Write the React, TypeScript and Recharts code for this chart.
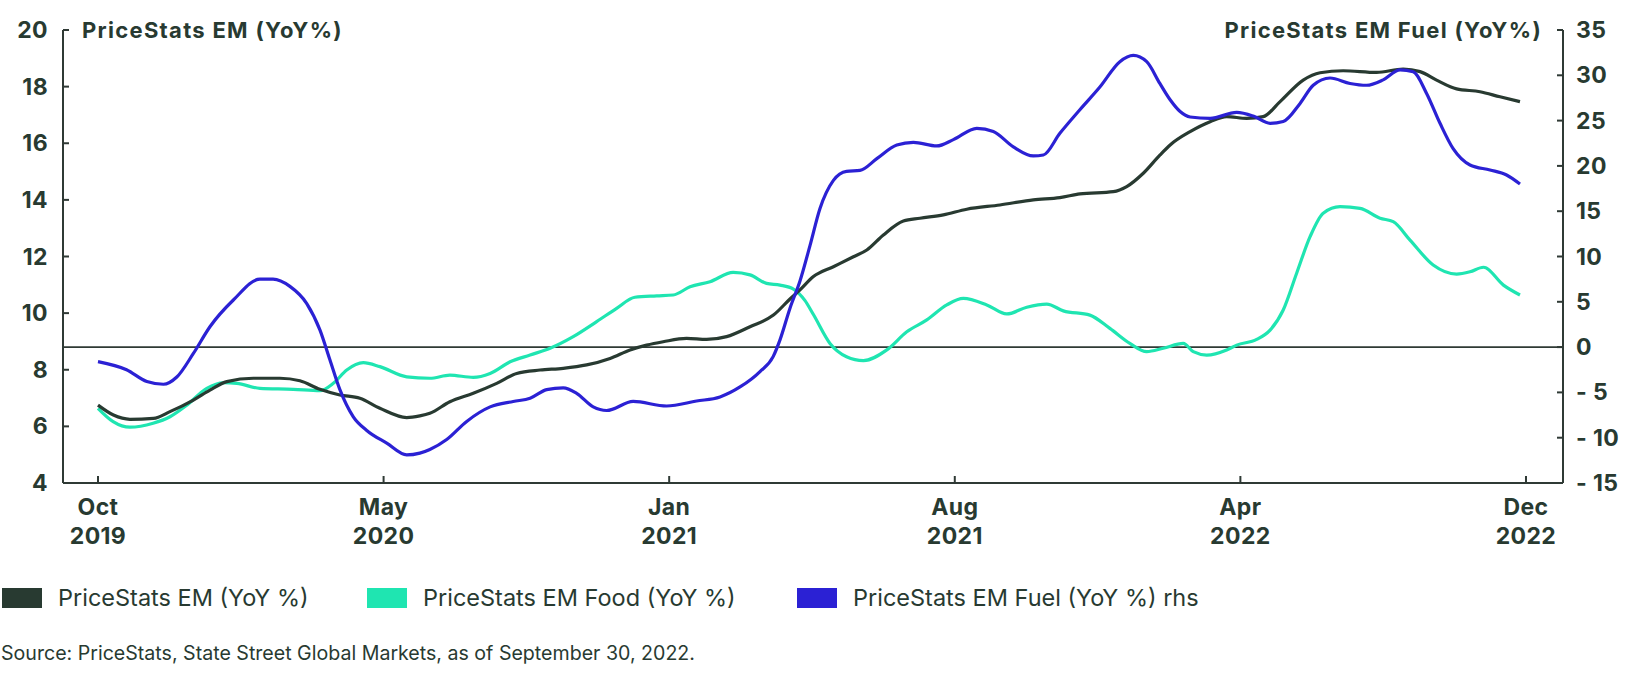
import React from 'react';
import { LineChart, Line, XAxis, YAxis, ReferenceLine } from 'recharts';

// x position in tick-interval units: 0 = Oct 2019 ... 5 = Dec 2022
const tickMonths = ['Oct', 'May', 'Jan', 'Aug', 'Apr', 'Dec'];
const tickYears = ['2019', '2020', '2021', '2021', '2022', '2022'];
const xTicks = [0, 1, 2, 3, 4, 5];
const leftTicks = [4, 6, 8, 10, 12, 14, 16, 18, 20];
const rightTicks = [-15, -10, -5, 0, 5, 10, 15, 20, 25, 30, 35];

// PriceStats EM (YoY %) - left axis
const emT = [0, 0.054, 0.112, 0.194, 0.252, 0.334, 0.392, 0.451, 0.544, 0.637, 0.707, 0.777, 0.847, 0.917, 0.987, 1.081, 1.127, 1.162, 1.232, 1.314, 1.396, 1.466, 1.548, 1.629, 1.711, 1.793, 1.863, 1.921, 1.979, 2.061, 2.131, 2.201, 2.283, 2.365, 2.423, 2.458, 2.505, 2.575, 2.645, 2.692, 2.75, 2.82, 2.878, 2.96, 3.042, 3.158, 3.275, 3.368, 3.438, 3.555, 3.602, 3.66, 3.718, 3.754, 3.824, 3.894, 3.952, 4.022, 4.08, 4.139, 4.22, 4.279, 4.36, 4.477, 4.57, 4.629, 4.687, 4.757, 4.839, 4.909, 4.979];
const emV = [6.75, 6.4, 6.25, 6.28, 6.52, 6.93, 7.28, 7.58, 7.7, 7.7, 7.61, 7.31, 7.11, 6.99, 6.64, 6.31, 6.37, 6.46, 6.87, 7.17, 7.52, 7.87, 7.99, 8.05, 8.17, 8.4, 8.7, 8.87, 8.99, 9.11, 9.07, 9.17, 9.52, 9.93, 10.5, 10.82, 11.29, 11.64, 11.99, 12.23, 12.76, 13.25, 13.35, 13.47, 13.67, 13.82, 14.0, 14.08, 14.21, 14.29, 14.47, 14.94, 15.58, 15.94, 16.41, 16.76, 16.94, 16.88, 16.94, 17.47, 18.23, 18.49, 18.56, 18.5, 18.62, 18.53, 18.23, 17.92, 17.82, 17.64, 17.47];

// PriceStats EM Food (YoY %) - left axis
const foodT = [0, 0.053, 0.112, 0.193, 0.252, 0.311, 0.381, 0.439, 0.486, 0.567, 0.684, 0.777, 0.824, 0.871, 0.929, 0.987, 1.081, 1.162, 1.232, 1.314, 1.373, 1.443, 1.513, 1.583, 1.664, 1.746, 1.816, 1.88, 1.956, 2.014, 2.073, 2.143, 2.224, 2.283, 2.341, 2.388, 2.435, 2.475, 2.505, 2.563, 2.621, 2.68, 2.762, 2.832, 2.902, 2.972, 3.03, 3.112, 3.182, 3.252, 3.322, 3.38, 3.473, 3.543, 3.613, 3.672, 3.73, 3.8, 3.835, 3.882, 3.952, 3.987, 4.057, 4.104, 4.15, 4.197, 4.244, 4.29, 4.349, 4.419, 4.489, 4.535, 4.594, 4.675, 4.757, 4.804, 4.851, 4.921, 4.979];
const foodV = [6.64, 6.17, 5.97, 6.11, 6.34, 6.75, 7.34, 7.54, 7.52, 7.34, 7.31, 7.26, 7.52, 7.99, 8.25, 8.11, 7.75, 7.7, 7.81, 7.73, 7.87, 8.28, 8.52, 8.76, 9.17, 9.7, 10.17, 10.56, 10.61, 10.64, 10.93, 11.11, 11.44, 11.35, 11.05, 10.99, 10.85, 10.45, 9.95, 8.93, 8.46, 8.32, 8.7, 9.34, 9.76, 10.29, 10.52, 10.29, 9.97, 10.21, 10.32, 10.08, 9.93, 9.46, 8.93, 8.64, 8.76, 8.93, 8.64, 8.52, 8.7, 8.87, 9.07, 9.4, 10.11, 11.41, 12.7, 13.53, 13.76, 13.7, 13.35, 13.23, 12.58, 11.7, 11.38, 11.46, 11.62, 10.99, 10.64];

// PriceStats EM Fuel (YoY %) - right axis
const fuelT = [0, 0.1, 0.171, 0.229, 0.276, 0.334, 0.392, 0.474, 0.567, 0.613, 0.672, 0.731, 0.777, 0.812, 0.847, 0.894, 0.941, 1.011, 1.081, 1.127, 1.162, 1.221, 1.291, 1.373, 1.454, 1.513, 1.571, 1.629, 1.676, 1.734, 1.781, 1.874, 1.991, 2.096, 2.178, 2.248, 2.318, 2.364, 2.388, 2.423, 2.458, 2.493, 2.528, 2.575, 2.621, 2.668, 2.727, 2.797, 2.855, 2.937, 2.995, 3.077, 3.135, 3.205, 3.275, 3.31, 3.368, 3.438, 3.508, 3.578, 3.625, 3.672, 3.718, 3.754, 3.789, 3.824, 3.894, 3.987, 4.045, 4.104, 4.15, 4.209, 4.255, 4.314, 4.384, 4.442, 4.5, 4.559, 4.605, 4.652, 4.699, 4.745, 4.804, 4.874, 4.932, 4.979];
const fuelV = [-1.6, -2.5, -3.8, -4.1, -3.3, -0.7, 2.25, 5.2, 7.5, 7.5, 6.7, 4.8, 1.9, -1.4, -4.7, -7.7, -9.2, -10.6, -11.9, -11.7, -11.3, -10.2, -8.2, -6.6, -6.0, -5.65, -4.7, -4.5, -5.1, -6.6, -7.0, -6.0, -6.5, -5.95, -5.5, -4.4, -2.7, -1.05, 0.8, 4.3, 7.3, 11.2, 15.3, 18.4, 19.4, 19.5, 20.8, 22.3, 22.6, 22.2, 22.9, 24.15, 23.8, 22.1, 21.1, 21.2, 23.6, 26.2, 28.7, 31.5, 32.2, 31.5, 29.1, 27.3, 26.0, 25.4, 25.25, 25.9, 25.5, 24.7, 24.9, 26.9, 28.9, 29.7, 29.1, 28.9, 29.5, 30.6, 30.4, 28.0, 24.7, 21.9, 20.1, 19.55, 19.0, 18.0];

const emData = emT.map((t, i) => ({ t, v: emV[i] }));
const foodData = foodT.map((t, i) => ({ t, v: foodV[i] }));
const fuelData = fuelT.map((t, i) => ({ t, v: fuelV[i] }));

const DARK = '#283a31';
const TEAL = '#1fe5b1';
const BLUE = '#2b21d4';
const AXIS = '#2f3a35';
const FONT = 'Inter, "Noto Sans", sans-serif';

const legendItems = [
  { label: 'PriceStats EM (YoY %)', color: DARK, left: 2 },
  { label: 'PriceStats EM Food (YoY %)', color: TEAL, left: 367 },
  { label: 'PriceStats EM Fuel (YoY %) rhs', color: BLUE, left: 797 },
];

const tickText = { fill: DARK, fontSize: 23, fontWeight: 700, fontFamily: FONT, letterSpacing: 0.4 } as const;

const LeftTick = (props: any) => {
  const { x, y, payload } = props;
  return (
    <g>
      <line x1={x} x2={x + 6} y1={y} y2={y} stroke={AXIS} strokeWidth={2} />
      <text x={x - 15} y={y} textAnchor="end" dominantBaseline="central" {...tickText}>
        {payload.value}
      </text>
    </g>
  );
};

const RightTick = (props: any) => {
  const { x, y, payload } = props;
  const v = payload.value;
  const label = v < 0 ? `- ${Math.abs(v)}` : `${v}`;
  return (
    <g>
      <line x1={x - 6} x2={x} y1={y} y2={y} stroke={AXIS} strokeWidth={2} />
      <text x={x + 13} y={y} textAnchor="start" dominantBaseline="central" {...tickText}>
        {label}
      </text>
    </g>
  );
};

const BottomTick = (props: any) => {
  const { x, y, payload } = props;
  const i = xTicks.indexOf(payload.value);
  return (
    <g>
      <line x1={x} x2={x} y1={y - 7} y2={y} stroke={AXIS} strokeWidth={2} />
      <text x={x} y={y + 24} textAnchor="middle" dominantBaseline="central" {...tickText}>
        {tickMonths[i]}
      </text>
      <text x={x} y={y + 53} textAnchor="middle" dominantBaseline="central" {...tickText}>
        {tickYears[i]}
      </text>
    </g>
  );
};

export default function App() {
  return (
    <div style={{ position: 'absolute', left: 0, top: 0, width: 1626, height: 676, background: '#fff', fontFamily: FONT }}>
      <LineChart width={1626} height={560} margin={{ top: 30, right: 0, bottom: 0, left: 0 }}>
        <XAxis
          dataKey="t"
          type="number"
          domain={[-0.1225, 5.1296]}
          ticks={xTicks}
          allowDataOverflow
          height={77}
          tickLine={false}
          tickSize={0}
          tickMargin={0}
          axisLine={{ stroke: AXIS, strokeWidth: 2 }}
          tick={<BottomTick />}
          interval={0}
        />
        <YAxis
          yAxisId="left"
          orientation="left"
          width={63}
          domain={[4, 20]}
          ticks={leftTicks}
          allowDataOverflow
          tickLine={false}
          tickSize={0}
          tickMargin={0}
          axisLine={{ stroke: AXIS, strokeWidth: 2 }}
          tick={<LeftTick />}
          interval={0}
        />
        <YAxis
          yAxisId="right"
          orientation="right"
          width={63}
          domain={[-15, 35]}
          ticks={rightTicks}
          allowDataOverflow
          tickLine={false}
          tickSize={0}
          tickMargin={0}
          axisLine={{ stroke: AXIS, strokeWidth: 2 }}
          tick={<RightTick />}
          interval={0}
        />
        <ReferenceLine yAxisId="right" y={0} stroke={AXIS} strokeWidth={1.6} />
        <Line yAxisId="left" data={foodData} dataKey="v" type="monotone" stroke={TEAL} strokeWidth={3.2} dot={false} isAnimationActive={false} />
        <Line yAxisId="left" data={emData} dataKey="v" type="monotone" stroke={DARK} strokeWidth={3.2} dot={false} isAnimationActive={false} />
        <Line yAxisId="right" data={fuelData} dataKey="v" type="monotone" stroke={BLUE} strokeWidth={3.2} dot={false} isAnimationActive={false} />
      </LineChart>

      <div style={{ position: 'absolute', left: 82, top: 16, fontSize: 22, fontWeight: 700, letterSpacing: 1.3, color: DARK, lineHeight: '28px', whiteSpace: 'nowrap' }}>
        PriceStats EM (YoY%)
      </div>
      <div style={{ position: 'absolute', right: 84, top: 16, fontSize: 22, fontWeight: 700, letterSpacing: 1.3, color: DARK, lineHeight: '28px', whiteSpace: 'nowrap', textAlign: 'right' }}>
        PriceStats EM Fuel (YoY%)
      </div>

      {legendItems.map((it) => (
        <div key={it.label} style={{ position: 'absolute', left: it.left, top: 584, height: 28, display: 'flex', alignItems: 'center', whiteSpace: 'nowrap' }}>
          <div style={{ width: 40, height: 20, background: it.color }} />
          <span style={{ marginLeft: 16, fontSize: 23.5, color: DARK, fontWeight: 400, lineHeight: '28px' }}>{it.label}</span>
        </div>
      ))}

      <div style={{ position: 'absolute', left: 1, top: 641, fontSize: 19.6, color: DARK, lineHeight: '24px', whiteSpace: 'nowrap' }}>
        Source: PriceStats, State Street Global Markets, as of September 30, 2022.
      </div>
    </div>
  );
}
